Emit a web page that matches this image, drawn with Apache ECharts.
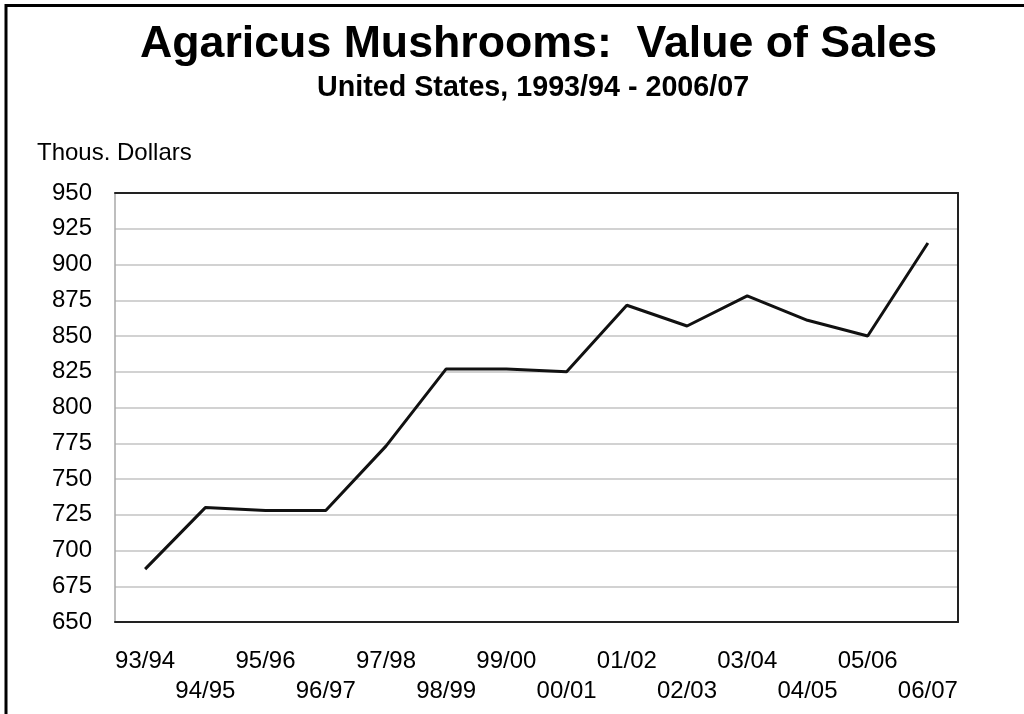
<!DOCTYPE html>
<html>
<head>
<meta charset="utf-8">
<style>
  html, body { margin: 0; padding: 0; background: #fff; }
  #chart { width: 1024px; height: 714px; }
</style>
<script src="https://cdn.jsdelivr.net/npm/echarts@6/dist/echarts.min.js"></script>
</head>
<body>
<div id="chart"></div>
<script>
const titleText = 'Agaricus Mushrooms:  Value of Sales';
const subtitleText = 'United States, 1993/94 - 2006/07';
const unitText = 'Thous. Dollars';
const categories = ['93/94','94/95','95/96','96/97','97/98','98/99','99/00','00/01','01/02','02/03','03/04','04/05','05/06','06/07'];
const salesValues = [687, 730, 728, 728, 773, 827, 827, 825, 871.5, 857, 878, 861, 850, 915];
const yMin = 650, yMax = 950, yStep = 25;

const FONT = '"Liberation Sans", Arial, Helvetica, sans-serif';
const chart = echarts.init(document.getElementById('chart'), null, { renderer: 'canvas' });
chart.setOption({
  backgroundColor: '#ffffff',
  animation: false,
  graphic: [{
    type: 'rect', z: 100, silent: true,
    shape: { x: 6, y: 5.5, width: 1200, height: 900 },
    style: { fill: null, stroke: '#000', lineWidth: 3 }
  }],
  title: [
    { text: titleText, left: 140, top: 22, padding: 0,
      textStyle: { fontFamily: FONT, fontSize: 44.7, fontWeight: 'bold', color: '#000' } },
    { text: subtitleText, left: 317, top: 74, padding: 0,
      textStyle: { fontFamily: FONT, fontSize: 28.7, fontWeight: 'bold', color: '#000' } },
    { text: unitText, left: 37, top: 141, padding: 0,
      textStyle: { fontFamily: FONT, fontSize: 24, fontWeight: 'normal', color: '#000' } }
  ],
  grid: { left: 115, right: 66, top: 193, bottom: 92, show: false },
  xAxis: [{
    type: 'category', data: categories, boundaryGap: true, position: 'bottom',
    axisLine: { show: true, lineStyle: { color: '#222', width: 2 } },
    axisTick: { show: false },
    axisLabel: {
      interval: 0, margin: 24, color: '#000', fontFamily: FONT, fontSize: 24, lineHeight: 30,
      formatter: function (v, i) { return i % 2 ? '\n' + v : v; }
    },
    splitLine: { show: false }
  }, {
    type: 'category', data: categories, boundaryGap: true, position: 'top',
    axisLine: { show: true, lineStyle: { color: '#222', width: 2 } },
    axisTick: { show: false }, axisLabel: { show: false }, splitLine: { show: false }
  }],
  yAxis: [{
    type: 'value', min: yMin, max: yMax, interval: yStep, position: 'left',
    axisLine: { show: true, lineStyle: { color: '#a8a8a8', width: 1.5 } },
    axisTick: { show: false },
    axisLabel: { margin: 23, color: '#000', fontFamily: FONT, fontSize: 24 },
    splitLine: { show: true, lineStyle: { color: '#d2d2d2', width: 2 } }
  }, {
    type: 'value', min: yMin, max: yMax, interval: yStep, position: 'right',
    axisLine: { show: true, lineStyle: { color: '#222', width: 2 } },
    axisTick: { show: false }, axisLabel: { show: false }, splitLine: { show: false }
  }],
  series: [{
    type: 'line', data: salesValues, xAxisIndex: 0, yAxisIndex: 0,
    showSymbol: false, symbol: 'none',
    lineStyle: { color: '#111', width: 3 }, z: 5
  }]
});
</script>
</body>
</html>
